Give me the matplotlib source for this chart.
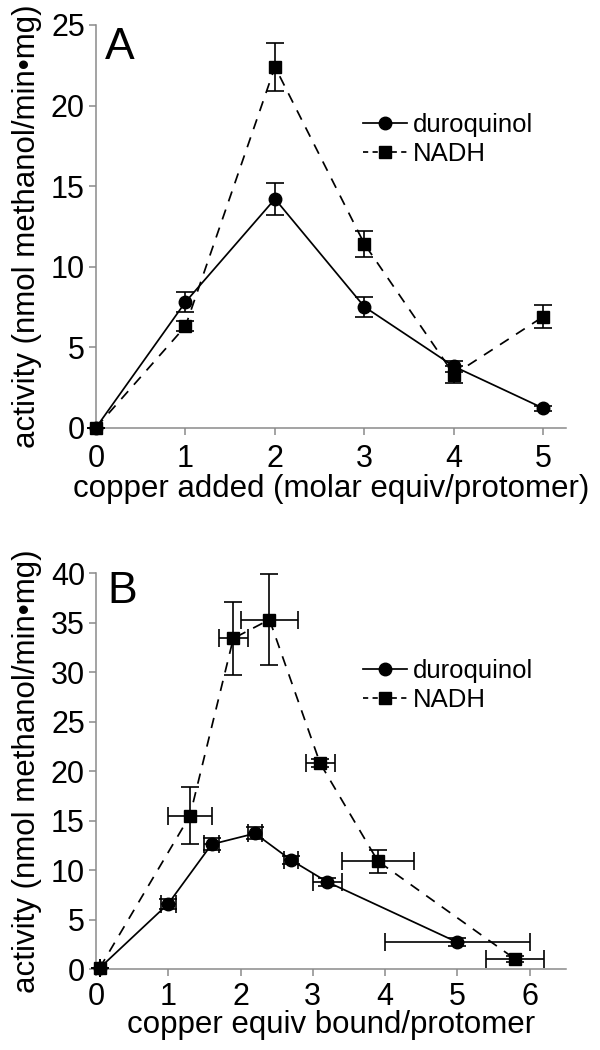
import numpy as np
import matplotlib
matplotlib.use("Agg")
import matplotlib.pyplot as plt

plt.rcParams['font.family'] = ['Liberation Sans', 'DejaVu Sans']

# panel A: copper added
xa = [0, 1, 2, 3, 4, 5]
duro_a = [0, 7.8, 14.2, 7.5, 3.8, 1.2]
duro_a_err = [0, 0.6, 1.0, 0.6, 0.35, 0.15]
nadh_a = [0, 6.3, 22.4, 11.4, 3.3, 6.9]
nadh_a_err = [0, 0.3, 1.5, 0.8, 0.5, 0.7]

# panel B: copper bound
duro_bx = [0.05, 1.0, 1.6, 2.2, 2.7, 3.2, 5.0]
duro_by = [0.1, 6.6, 12.6, 13.7, 11.0, 8.8, 2.7]
duro_bxerr = [0, 0.1, 0.1, 0.1, 0.1, 0.2, 1.0]
duro_byerr = [0, 0.5, 0.6, 0.6, 0.4, 0.4, 0.4]
nadh_bx = [0.05, 1.3, 1.9, 2.4, 3.1, 3.9, 5.8]
nadh_by = [0.1, 15.5, 33.4, 35.3, 20.8, 10.9, 1.0]
nadh_bxerr = [0, 0.3, 0.2, 0.4, 0.2, 0.5, 0.4]
nadh_byerr = [0, 2.85, 3.7, 4.6, 0.4, 1.15, 0.3]

ylab = "activity (nmol methanol/min\u2022mg)"
gray = '#8a8a8a'

fig = plt.figure(figsize=(6, 10.5), dpi=100)
axA = fig.add_axes([0.16, 0.5927, 0.783, 0.3835])
axB = fig.add_axes([0.16, 0.0771, 0.783, 0.3771])


def draw(ax, x1, y1, ye1, x2, y2, ye2, xe1=None, xe2=None):
    ax.errorbar(x1, y1, yerr=ye1, xerr=xe1, fmt='none', ecolor='k',
                elinewidth=1.2, capsize=6.5, capthick=1.2, clip_on=False, zorder=3)
    ax.errorbar(x2, y2, yerr=ye2, xerr=xe2, fmt='none', ecolor='k',
                elinewidth=1.2, capsize=6.5, capthick=1.2, clip_on=False, zorder=3)
    ax.plot(x1, y1, 'k-', marker='o', ms=9, lw=1.25, label='duroquinol',
            clip_on=False, zorder=4)
    ax.plot(x2, y2, 'k--', marker='s', ms=9, lw=1.25, dashes=(6, 5),
            label='NADH', clip_on=False, zorder=4)
    for s in ['top', 'right']:
        ax.spines[s].set_visible(False)
    for s in ['left', 'bottom']:
        ax.spines[s].set_color(gray)
        ax.spines[s].set_linewidth(1.1)
    ax.tick_params(direction='out', length=5, width=1.1, color=gray,
                   labelsize=22, pad=3)
    ax.set_ylabel(ylab, fontsize=22.5)
    ax.yaxis.set_label_coords(-0.116, 0.5)
    leg = ax.legend(loc='center left', bbox_to_anchor=(0.568, 0.716), frameon=False,
                    fontsize=18.5, handlelength=1.7, handletextpad=0.25,
                    labelspacing=0.2, borderpad=0, borderaxespad=0)
    leg.get_lines()[1].set_dashes((3, 2.5))


draw(axA, xa, duro_a, duro_a_err, xa, nadh_a, nadh_a_err)
axA.set_xlim(0, 5.25)
axA.set_ylim(0, 25)
axA.set_xticks(range(0, 6))
axA.set_yticks(range(0, 26, 5))
axA.tick_params(axis='x', pad=7)
axA.set_xlabel("copper added (molar equiv/protomer)", fontsize=22.5, labelpad=0)
axA.text(0.02, 0.915, "A", transform=axA.transAxes, fontsize=32)

draw(axB, duro_bx, duro_by, duro_byerr, nadh_bx, nadh_by, nadh_byerr,
     duro_bxerr, nadh_bxerr)
axB.set_xlim(0, 6.5)
axB.set_ylim(0, 40)
axB.set_xticks(range(0, 7))
axB.set_yticks(range(0, 41, 5))
axB.tick_params(axis='x', pad=4)
axB.set_xlabel("copper equiv bound/protomer", fontsize=22.5, labelpad=-1)
axB.text(0.025, 0.925, "B", transform=axB.transAxes, fontsize=32)

fig.savefig("out.png", dpi=100)
